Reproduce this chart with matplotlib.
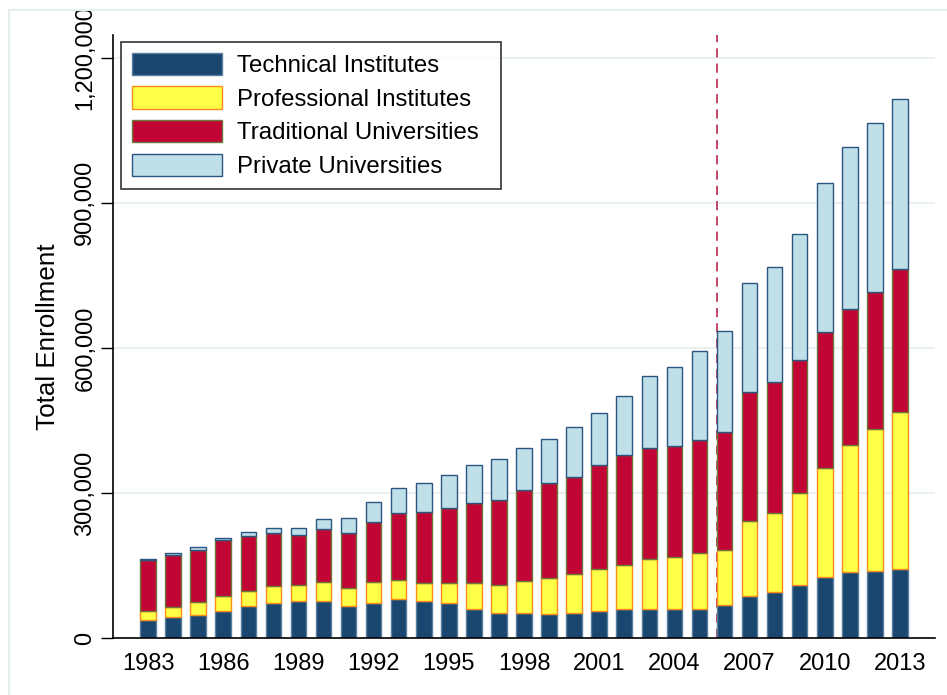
import numpy as np
import matplotlib.pyplot as plt
from matplotlib.lines import Line2D

plt.rcParams['font.family'] = ['Liberation Sans', 'DejaVu Sans']

years = np.arange(1983, 2014)

technical = [37900, 43400, 48300, 56600, 66200, 72400, 75900, 76600, 65500, 73100,
             81400, 75900, 71700, 60000, 52400, 52400, 49700, 51000, 55900, 59300,
             60700, 60700, 60700, 69000, 86200, 94500, 109000, 126900, 137200, 138600,
             143500]
# cumulative tops
top_prof = [55900, 64800, 74500, 86200, 96600, 106900, 109700, 116600, 102800, 115900,
            120000, 114500, 113100, 113100, 109700, 117900, 124100, 132400, 143500, 151700,
            162800, 166900, 176600, 181400, 242800, 257900, 299300, 351700, 398600, 433100,
            468300]
top_trad = [160700, 171700, 182800, 202100, 211000, 216600, 212400, 224800, 217900, 239300,
            259300, 260000, 268300, 280000, 285500, 306900, 320700, 333800, 357900, 377900,
            393100, 397200, 409000, 426200, 508300, 529700, 575900, 633800, 681300, 715900,
            764100]
top_priv = [164100, 175900, 188300, 207600, 218600, 226900, 226900, 245500, 247600, 280700,
            309700, 321400, 337200, 357900, 370300, 393100, 411000, 435900, 464800, 500700,
            542100, 560000, 594500, 634500, 735100, 768200, 834500, 940000, 1014500, 1064800,
            1113800]

technical = np.array(technical)
professional = np.array(top_prof) - technical
traditional = np.array(top_trad) - np.array(top_prof)
private = np.array(top_priv) - np.array(top_trad)

labels = ['Technical Institutes', 'Professional Institutes',
          'Traditional Universities', 'Private Universities']
fills = ['#1a476f', '#ffff48', '#c10534', '#c0e0e9']
edges = ['#5a7f9f', '#ff8c1a', '#6b7a3a', '#2a5580']

fig = plt.figure(figsize=(9.47, 6.95), dpi=100)
ax = fig.add_axes([113/947, 1-638/695, 822/947, 603/695])

# faint outer frame (only top and left show)
fig.add_artist(Line2D([8.5/947, 1], [1-9.5/695, 1-9.5/695], color='#e6efef', lw=1.5))
fig.add_artist(Line2D([8.5/947, 8.5/947], [0, 1-9.5/695], color='#e6efef', lw=1.5))

ax.axvline(2005.7, color='#b0163a', ls=(0, (6, 4)), lw=1.1, zorder=1)

bottom = np.zeros(len(years))
for vals, lab, fc, ec in zip([technical, professional, traditional, private], labels, fills, edges):
    ax.bar(years, vals, width=0.62, bottom=bottom, color=fc, edgecolor=ec,
           linewidth=1.0, label=lab, zorder=2)
    bottom = bottom + vals

ax.set_xlim(1981.6, 2014.4)
ax.set_ylim(0, 1247000)
ax.set_yticks([0, 300000, 600000, 900000, 1200000])
ax.set_yticklabels(['0', '300,000', '600,000', '900,000', '1,200,000'],
                   rotation=90, va='center', fontsize=17)
ax.set_xticks(np.arange(1983, 2014, 3))
ax.set_xticklabels([str(y) for y in range(1983, 2014, 3)], fontsize=17)
ax.tick_params(axis='x', length=0, pad=11)
ax.tick_params(axis='y', length=9, width=1, pad=3)
ax.set_ylabel('Total Enrollment', fontsize=18.7, labelpad=10)

ax.grid(axis='y', color='#eaf1f3', lw=1.5, zorder=0)
ax.set_axisbelow(True)
for s in ['top', 'right']:
    ax.spines[s].set_visible(False)
ax.spines['left'].set_linewidth(1.2)
ax.spines['bottom'].set_linewidth(1.2)

leg = ax.legend(loc='upper left', bbox_to_anchor=(0.0097, 0, 0.4623, 0.9884),
                mode='expand', borderaxespad=0,
                fontsize=17.3, frameon=True, fancybox=False, edgecolor='black',
                handlelength=3.75, handleheight=1.04, handletextpad=0.62,
                labelspacing=0.39, borderpad=0.45)
leg.get_frame().set_linewidth(1.2)

fig.savefig('out.png', dpi=100)
